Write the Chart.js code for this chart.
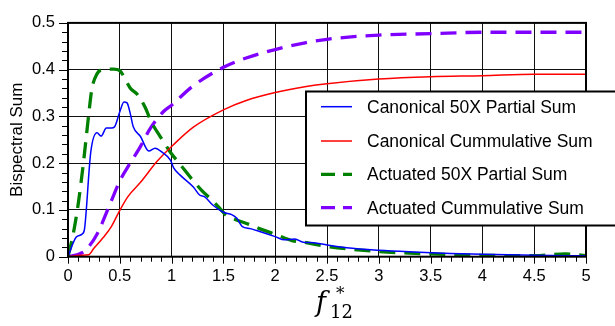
<!DOCTYPE html>
<html>
<head>
<meta charset="utf-8">
<script src="https://cdn.jsdelivr.net/npm/chart.js@4/dist/chart.umd.min.js"></script>
<style>
  html, body { margin: 0; padding: 0; background: #fff; }
  #wrap { width: 615px; height: 326px; position: relative; }
</style>
</head>
<body>
<div id="wrap"><canvas id="bispectrum"></canvas></div>
<script>
// Series values (f12* on x, bispectral sum on y)
const canonPartialX = [0, 0.08, 0.14, 0.16, 0.22, 0.28, 0.32, 0.37, 0.42, 0.45, 0.5, 0.54, 0.57, 0.6, 0.63, 0.7, 0.78, 0.84, 0.91, 0.99, 1.02, 1.08, 1.21, 1.27, 1.32, 1.4, 1.5, 1.58, 1.63, 1.68, 1.76, 1.85, 2.0, 2.09, 2.19, 2.27, 2.37, 2.5, 2.69, 3.0, 3.33, 3.69, 4.0, 4.5, 5.0];
const canonPartialY = [0, 0.042, 0.049, 0.06, 0.224, 0.265, 0.258, 0.275, 0.275, 0.278, 0.31, 0.331, 0.329, 0.307, 0.278, 0.257, 0.226, 0.232, 0.223, 0.206, 0.19, 0.175, 0.149, 0.132, 0.128, 0.11, 0.095, 0.09, 0.082, 0.065, 0.06, 0.054, 0.043, 0.036, 0.038, 0.031, 0.03, 0.025, 0.019, 0.0136, 0.01, 0.007, 0.005, 0.003, 0.002];

const canonCumX = [0, 0.12, 0.2, 0.25, 0.34, 0.42, 0.49, 0.58, 0.7, 0.86, 1.02, 1.21, 1.5, 1.72, 2.0, 2.3, 2.5, 3.0, 3.5, 4.0, 4.5, 5.0];
const canonCumY = [0, 0.003, 0.004, 0.018, 0.041, 0.065, 0.095, 0.129, 0.159, 0.204, 0.24, 0.277, 0.314, 0.334, 0.351, 0.364, 0.37, 0.38, 0.385, 0.387, 0.39, 0.39];

const actPartialX = [0, 0.05, 0.1, 0.15, 0.2, 0.23, 0.28, 0.34, 0.44, 0.5, 0.54, 0.6, 0.67, 0.75, 0.8, 0.89, 0.99, 1.08, 1.21, 1.29, 1.39, 1.45, 1.53, 1.6, 1.76, 1.86, 2.0, 2.17, 2.27, 2.5, 3.0, 3.5, 4.0, 4.5, 4.8, 5.0];
const actPartialY = [0, 0.048, 0.115, 0.203, 0.304, 0.358, 0.391, 0.4, 0.401, 0.398, 0.385, 0.361, 0.347, 0.317, 0.29, 0.257, 0.223, 0.198, 0.162, 0.142, 0.121, 0.107, 0.088, 0.081, 0.068, 0.059, 0.048, 0.034, 0.031, 0.022, 0.011, 0.006, 0.003, 0.002, 0.006, 0.002];

const actCumX = [0, 0.12, 0.17, 0.28, 0.41, 0.5, 0.6, 0.7, 0.79, 0.92, 1.0, 1.2, 1.5, 1.72, 2.0, 2.3, 2.5, 3.0, 3.5, 4.0, 4.5, 5.0];
const actCumY = [0, 0.007, 0.014, 0.048, 0.115, 0.162, 0.2, 0.236, 0.273, 0.31, 0.324, 0.364, 0.405, 0.425, 0.443, 0.458, 0.465, 0.474, 0.477, 0.48, 0.48, 0.48];

const seriesNames = ['Canonical 50X Partial Sum', 'Canonical Cummulative Sum', 'Actuated 50X Partial Sum', 'Actuated Cummulative Sum'];
const seriesColors = ['#0000ff', '#ff0000', '#008000', '#8000ff'];

// Axis ticks
const xTicks = [0, 0.5, 1, 1.5, 2, 2.5, 3, 3.5, 4, 4.5, 5];
const yTicks = [0, 0.1, 0.2, 0.3, 0.4, 0.5];

const sans = '"Liberation Sans", Arial, sans-serif';

function toPoints(xs, ys) {
    return xs.map((x, i) => ({ x: x, y: ys[i] }));
}

// Minor/major tick marks outside the frame, the legend box and the f12* title
const decorations = {
    id: 'decorations',
    afterDraw(chart) {
        const ctx = chart.ctx;
        const area = chart.chartArea;
        const xs = chart.scales.x;
        const ys = chart.scales.y;
        ctx.save();
        ctx.strokeStyle = '#000';
        ctx.lineWidth = 1;
        ctx.beginPath();
        for (let i = 0; i <= 50; i++) {
            const px = Math.round(xs.getPixelForValue(i / 10)) + 0.5;
            const len = i % 5 === 0 ? 7 : 5;
            ctx.moveTo(px, area.bottom);
            ctx.lineTo(px, area.bottom + len);
        }
        for (let i = 0; i <= 25; i++) {
            const py = Math.round(ys.getPixelForValue(i / 50)) + 0.5;
            const len = i % 5 === 0 ? 9 : 6;
            ctx.moveTo(area.left, py);
            ctx.lineTo(area.left - len, py);
        }
        ctx.stroke();

        // frame
        ctx.lineWidth = 2;
        ctx.strokeRect(area.left, area.top, area.right - area.left, area.bottom - area.top);

        // legend
        const lx = 306, ly = 91.5, lw = 312, lh = 134;
        ctx.fillStyle = '#fff';
        ctx.fillRect(lx, ly, lw, lh);
        ctx.strokeRect(lx, ly, lw, lh);
        const rows = [106.7, 141, 174.3, 207.7];
        ctx.font = '17.5px ' + sans;
        ctx.textBaseline = 'middle';
        rows.forEach((ry, i) => {
            const dashed = i >= 2;
            ctx.strokeStyle = seriesColors[i];
            ctx.lineWidth = dashed ? 3.3 : 1.5;
            ctx.setLineDash(dashed ? [14, 8] : []);
            ctx.beginPath();
            ctx.moveTo(321, ry);
            ctx.lineTo(352, ry);
            ctx.stroke();
            ctx.setLineDash([]);
            ctx.fillStyle = '#000';
            ctx.fillText(seriesNames[i], 367, ry + 1);
        });

        // x axis title: italic f with subscript 12 and superscript *
        ctx.fillStyle = '#000';
        ctx.textBaseline = 'alphabetic';
        ctx.font = 'italic 27px "DejaVu Serif", serif';
        ctx.fillText('f', 316, 311);
        ctx.font = '18px "DejaVu Serif", serif';
        ctx.fillText('12', 330, 318);
        ctx.font = '17px "DejaVu Serif", serif';
        ctx.fillText('*', 336, 299);
        ctx.restore();
    }
};

const ctx = document.getElementById('bispectrum').getContext('2d');

const chart = new Chart(ctx, {
    type: 'line',
    data: {
        datasets: [{
            label: seriesNames[0],
            data: toPoints(canonPartialX, canonPartialY),
            borderColor: seriesColors[0],
            borderWidth: 1.5,
        }, {
            label: seriesNames[1],
            data: toPoints(canonCumX, canonCumY),
            borderColor: seriesColors[1],
            borderWidth: 1.5,
        }, {
            label: seriesNames[2],
            data: toPoints(actPartialX, actPartialY),
            borderColor: seriesColors[2],
            borderWidth: 3.3,
            borderDash: [16, 9],
        }, {
            label: seriesNames[3],
            data: toPoints(actCumX, actCumY),
            borderColor: seriesColors[3],
            borderWidth: 3.3,
            borderDash: [16, 9],
        }],
    },
    options: {
        responsive: true,
        maintainAspectRatio: false,
        animation: false,
        layout: { padding: { top: 9.5, right: 29, left: 0, bottom: 0 } },
        elements: {
            point: { radius: 0 },
            line: { cubicInterpolationMode: 'monotone', fill: false },
        },
        plugins: {
            legend: { display: false },
            tooltip: { enabled: false },
        },
        scales: {
            x: {
                type: 'linear',
                min: 0,
                max: 5,
                afterBuildTicks(scale) { scale.ticks = xTicks.map(v => ({ value: v })); },
                afterFit(scale) { scale.height = 69.3; },
                grid: { color: '#111', lineWidth: 1, drawTicks: false },
                border: { display: false },
                ticks: {
                    padding: 10,
                    color: '#000',
                    maxRotation: 0,
                    font: { family: sans, size: 16.5 },
                    callback: v => String(v),
                },
            },
            y: {
                min: 0,
                max: 0.5,
                afterBuildTicks(scale) { scale.ticks = yTicks.map(v => ({ value: v })); },
                afterFit(scale) { scale.width = 68; },
                grid: { color: '#111', lineWidth: 1, drawTicks: false },
                border: { display: false },
                title: {
                    display: true,
                    text: 'Bispectral Sum',
                    color: '#000',
                    padding: { top: 7, bottom: 0 },
                    font: { family: sans, size: 17 },
                },
                ticks: {
                    padding: 13,
                    color: '#000',
                    font: { family: sans, size: 16.5 },
                    callback: v => String(Math.round(v * 10) / 10),
                },
            },
        },
    },
    plugins: [decorations],
});
</script>
</body>
</html>
